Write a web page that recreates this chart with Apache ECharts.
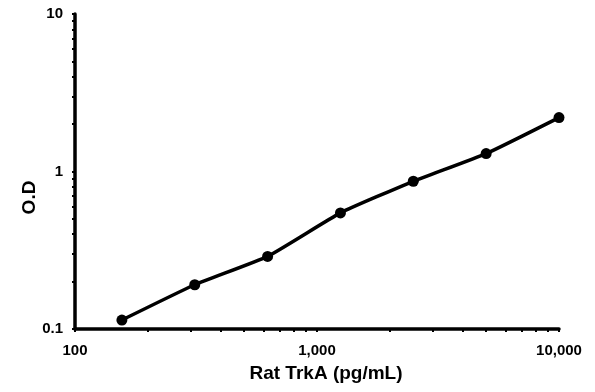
<!DOCTYPE html>
<html><head><meta charset="utf-8">
<script src="https://cdn.jsdelivr.net/npm/echarts@6/dist/echarts.min.js"></script>
<style>html,body{margin:0;padding:0;background:#fff}#c{width:595px;height:392px}</style>
</head><body><div id="c"></div>
<script>
const concentrations = [156.25, 312.5, 625, 1250, 2500, 5000, 10000];
const odValues = [0.114, 0.191, 0.289, 0.546, 0.867, 1.30, 2.20];
const xTickLabels = [100, 1000, 10000];
const yTickLabels = [0.1, 1, 10];
const xMinorTicks = [];
for (let d = 100; d < 10000; d *= 10) for (let k = 1; k <= 10; k++) xMinorTicks.push(d * k);
const yMinorTicks = [];
for (let d = 0.1; d < 10 - 1e-9; d *= 10) for (let k = 1; k <= 10; k++) yMinorTicks.push(+(d * k).toPrecision(6));

const font = 'Liberation Sans, Arial, sans-serif';
const chart = echarts.init(document.getElementById('c'), null, {renderer: 'canvas'});
chart.setOption({
  animation: false,
  grid: {left: 75, right: 36, top: 14, bottom: 63, containLabel: false},
  xAxis: {
    type: 'log', logBase: 10, min: 100, max: 10000,
    name: 'Rat TrkA (pg/mL)', nameLocation: 'middle', nameGap: 35,
    nameTextStyle: {fontFamily: font, fontWeight: 'bold', fontSize: 19, color: '#000', padding: [0, 0, 0, 18]},
    axisLine: {lineStyle: {color: '#000', width: 3.5}},
    axisTick: {show: true, length: 3, lineStyle: {color: '#000', width: 2}, customValues: xMinorTicks},
    axisLabel: {customValues: xTickLabels, margin: 14, fontFamily: font, fontWeight: 'bold', fontSize: 15, color: '#000',
      formatter: v => Number(v).toLocaleString('en-US')},
    splitLine: {show: false}, minorTick: {show: false}
  },
  yAxis: {
    type: 'log', logBase: 10, min: 0.1, max: 10,
    name: 'O.D', nameLocation: 'middle', nameGap: 36, nameRotate: 90, nameMoveOverlap: false,
    nameTextStyle: {fontFamily: font, fontWeight: 'bold', fontSize: 19, color: '#000', padding: [0, 52, 0, 0]},
    axisLine: {lineStyle: {color: '#000', width: 3.5}},
    axisTick: {show: true, length: 3, lineStyle: {color: '#000', width: 2}, customValues: yMinorTicks},
    axisLabel: {customValues: yTickLabels, margin: 12, fontFamily: font, fontWeight: 'bold', fontSize: 15, color: '#000',
      formatter: v => String(+Number(v).toPrecision(6))},
    splitLine: {show: false}, minorTick: {show: false}
  },
  series: [{
    type: 'line',
    data: concentrations.map((c, i) => [c, odValues[i]]),
    smooth: 0.15,
    symbol: 'circle', symbolSize: 11,
    lineStyle: {color: '#000', width: 3.5},
    itemStyle: {color: '#000'}
  }]
});
</script></body></html>
